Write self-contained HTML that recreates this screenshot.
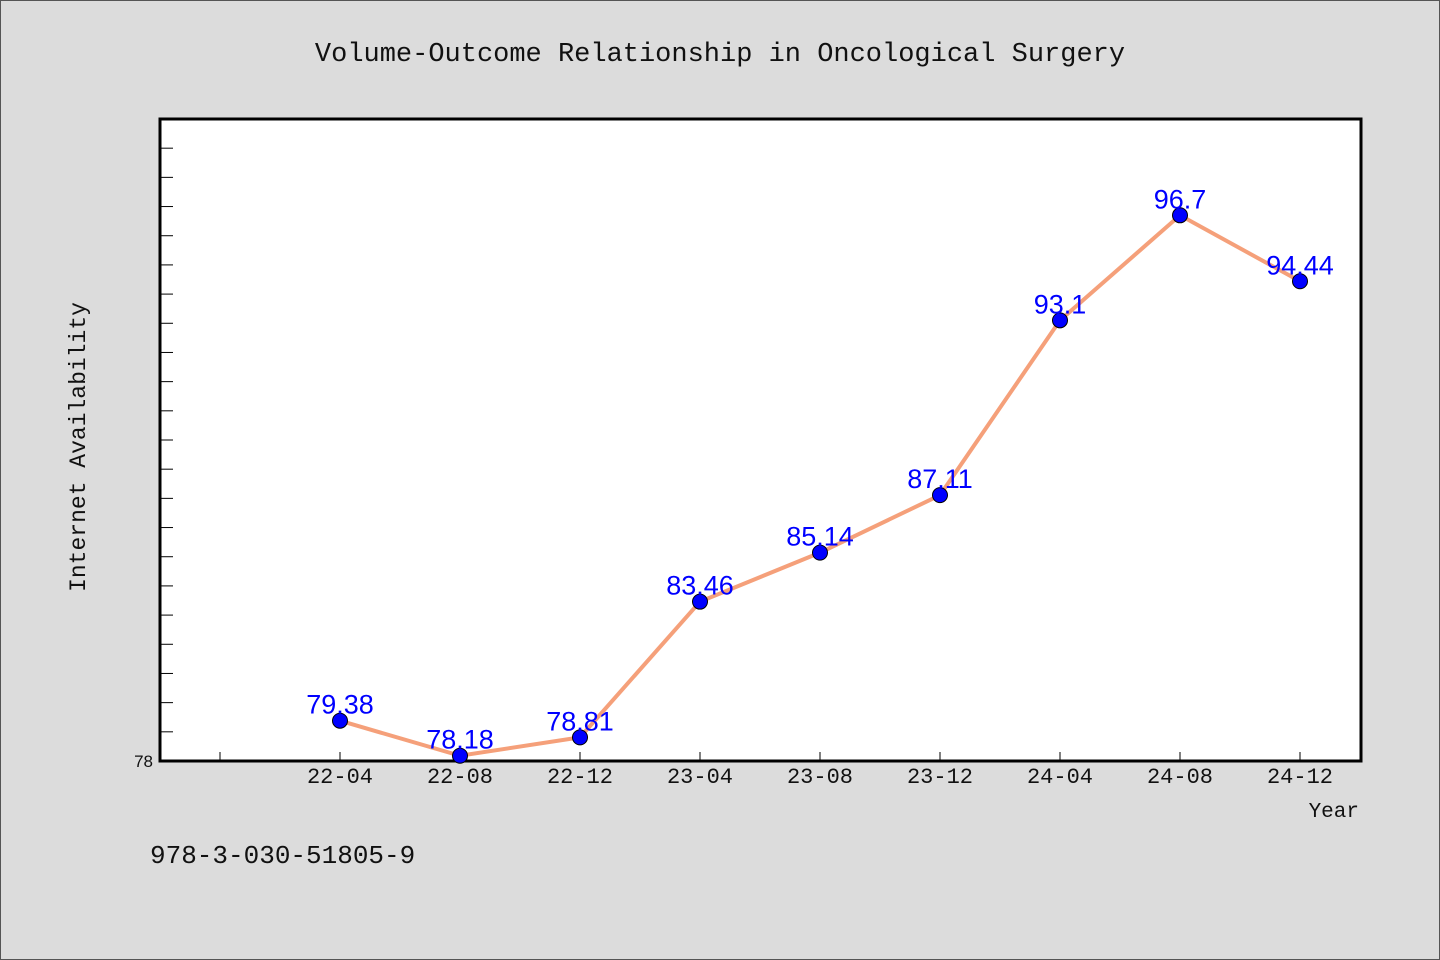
<!DOCTYPE html>
<html><head><meta charset="utf-8"><style>
html,body{margin:0;padding:0;background:#dcdcdc}
svg{display:block}
</style></head><body>
<svg width="1440" height="960" xmlns="http://www.w3.org/2000/svg">
<rect x="0.5" y="0.5" width="1439" height="959" fill="#dcdcdc" stroke="#555"/>
<text x="720" y="61" text-anchor="middle" font-family="Liberation Mono, monospace" font-size="27" fill="#111">Volume-Outcome Relationship in Oncological Surgery</text>
<rect x="160" y="119" width="1201" height="642" fill="#fff" stroke="#000" stroke-width="3"/>
<g id="yticks"></g>
<g id="xticks"></g>
<g id="series"></g>
<text transform="translate(85,447) rotate(-90)" text-anchor="middle" font-family="Liberation Mono, monospace" font-size="23" fill="#111">Internet Availability</text>
<text x="1359" y="817" text-anchor="end" font-family="Liberation Mono, monospace" font-size="21" fill="#111">Year</text>
<text x="150" y="863" font-family="Liberation Mono, monospace" font-size="26" fill="#111">978-3-030-51805-9</text>
</svg>
<script>
const categories=["22-04","22-08","22-12","23-04","23-08","23-12","24-04","24-08","24-12"];
const values=[79.38,78.18,78.81,83.46,85.14,87.11,93.1,96.7,94.44];
const labels=["79.38","78.18","78.81","83.46","85.14","87.11","93.1","96.7","94.44"];
const yMin=78,yMax=100;
const NS="http://www.w3.org/2000/svg";
function xs(i){return 340+i*120;}
function ys(v){return 761-(v-yMin)/(yMax-yMin)*642;}
function mk(tag,attrs,parent){const e=document.createElementNS(NS,tag);for(const k in attrs)e.setAttribute(k,attrs[k]);parent.appendChild(e);return e;}
const yg=document.getElementById('yticks');
for(let v=yMin+1;v<yMax;v++){const t=mk('line',{x1:161,x2:173,y1:ys(v),y2:ys(v),stroke:'#000','stroke-width':1},yg);

}
const yl=mk('text',{x:153,y:767,'text-anchor':'end','font-family':'Liberation Sans, sans-serif','font-size':17,fill:'#111'},yg);
yl.textContent='78';


const xg=document.getElementById('xticks');
for(let i=-1;i<categories.length;i++){const t=mk('line',{x1:xs(i),x2:xs(i),y1:752,y2:761,stroke:'#000','stroke-width':1},xg);


if(i>=0){const l=mk('text',{x:xs(i),y:783,'text-anchor':'middle','font-family':'Liberation Mono, monospace','font-size':22,fill:'#111'},xg);
l.textContent=categories[i];

}}
const sg=document.getElementById('series');
const pl=mk('polyline',{points:values.map((v,i)=>xs(i)+','+ys(v)).join(' '),fill:'none',stroke:'#f5a07a','stroke-width':4},sg);


values.forEach((v,i)=>{const c=mk('circle',{cx:xs(i),cy:ys(v),r:7.5,fill:'#0000ff',stroke:'#000','stroke-width':1},sg);


const t=mk('text',{x:xs(i),y:ys(v)-7,'text-anchor':'middle','font-family':'Liberation Sans, sans-serif','font-size':27,fill:'#0000ff'},sg);
t.textContent=labels[i];

});
</script>
</body></html>
